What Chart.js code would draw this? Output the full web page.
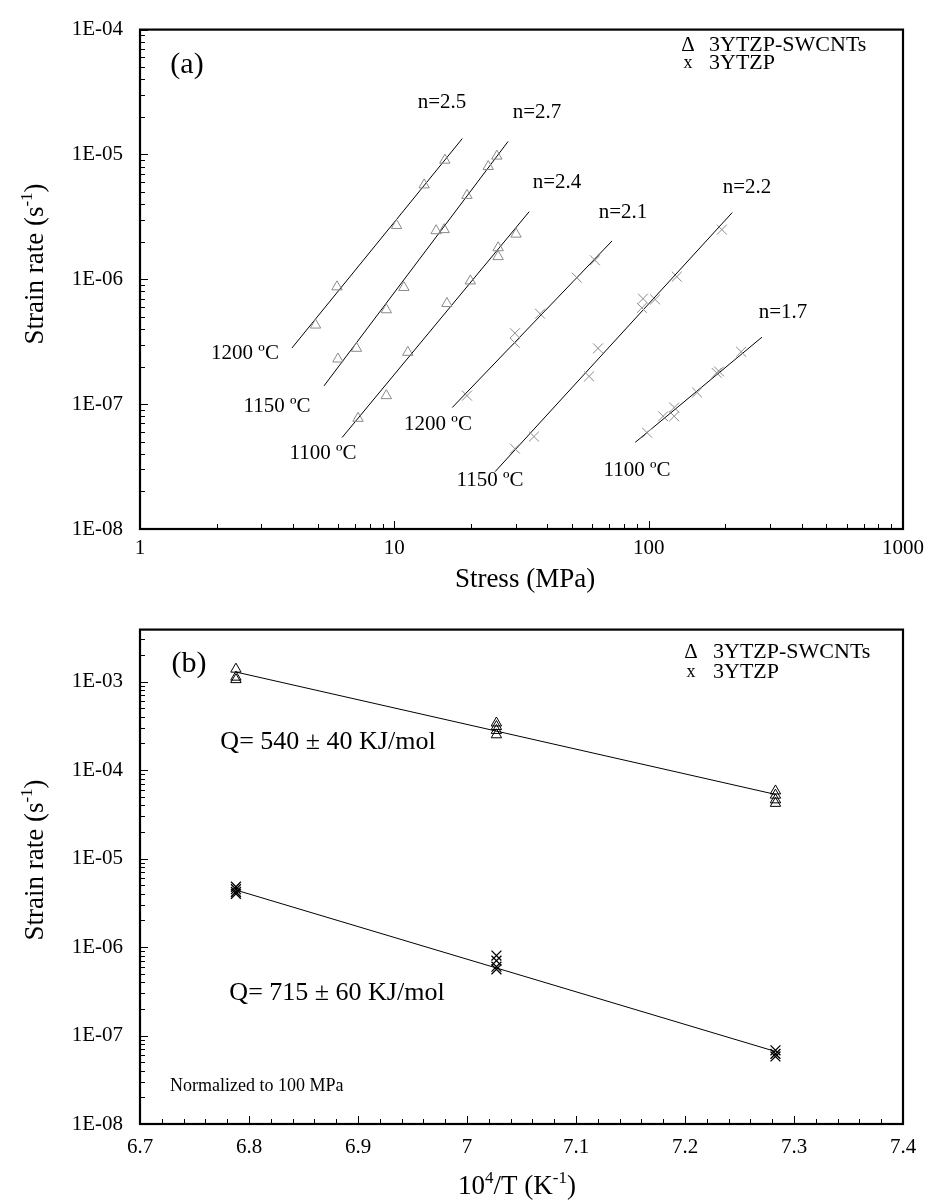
<!DOCTYPE html>
<html>
<head>
<meta charset="utf-8">
<script src="https://cdn.jsdelivr.net/npm/chart.js@4.4.0/dist/chart.umd.min.js"></script>
<style>
  html, body { margin: 0; padding: 0; background: #fff; }
  .panel { position: absolute; left: 0; width: 931px; }
  #panelA { top: 0; height: 600px; }
  #panelB { top: 600px; height: 604px; }
</style>
</head>
<body>
<div class="panel" id="panelA"><canvas id="chartA" width="931" height="600"></canvas></div>
<div class="panel" id="panelB"><canvas id="chartB" width="931" height="604"></canvas></div>
<script>
// ---- (a) stress (MPa) vs strain rate (1/s) ----
const cnt1200Stress = [4.9, 5.95, 10.2, 13.1, 15.8];
const cnt1200Rate   = [4.3e-7, 8.7e-7, 2.7e-6, 5.7e-6, 9.0e-6];
const cnt1150Stress = [6.0, 7.1, 9.3, 10.9, 14.6, 15.7, 19.3, 23.4, 25.3];
const cnt1150Rate   = [2.3e-7, 2.8e-7, 5.7e-7, 8.6e-7, 2.45e-6, 2.5e-6, 4.7e-6, 8.0e-6, 9.7e-6];
const cnt1100Stress = [7.2, 9.3, 11.3, 16.1, 19.9, 25.6, 25.6, 30.1];
const cnt1100Rate   = [7.7e-8, 1.17e-7, 2.6e-7, 6.4e-7, 9.7e-7, 1.52e-6, 1.79e-6, 2.3e-6];
const ytzp1200Stress = [19.3, 29.8, 29.8, 37.4, 52.2, 61.5];
const ytzp1200Rate   = [1.17e-7, 3.1e-7, 3.7e-7, 5.3e-7, 1.03e-6, 1.42e-6];
const ytzp1150Stress = [29.8, 35.4, 58.3, 63.2, 94, 95, 106, 129, 194];
const ytzp1150Rate   = [4.4e-8, 5.5e-8, 1.67e-7, 2.8e-7, 5.9e-7, 7.0e-7, 6.9e-7, 1.05e-6, 2.5e-6];
const ytzp1100Stress = [98.6, 114, 126, 126, 155, 185, 189, 231];
const ytzp1100Rate   = [5.9e-8, 8.0e-8, 8.0e-8, 9.4e-8, 1.24e-7, 1.78e-7, 1.83e-7, 2.63e-7];
// fitted power-law lines (end points)
const fitAStress = [[3.96, 18.5], [5.29, 28.0], [6.23, 33.9], [16.9, 71.8], [24.9, 213], [88.5, 279]];
const fitARate   = [[2.82e-7, 1.34e-5], [1.4e-7, 1.27e-5], [5.4e-8, 3.48e-6], [9.4e-8, 2.03e-6], [2.88e-8, 3.42e-6], [4.94e-8, 3.44e-7]];
const stressTicks = [1, 10, 100, 1000];
const rateTicksA = [1e-8, 1e-7, 1e-6, 1e-5, 1e-4];

// ---- (b) Arrhenius plot, normalized to 100 MPa ----
const cntInvT = [6.788, 6.788, 6.788, 7.027, 7.027, 7.027, 7.027, 7.283, 7.283, 7.283, 7.283];
const cntRateB = [1.38e-3, 1.12e-3, 1.05e-3, 3.4e-4, 3.1e-4, 2.8e-4, 2.5e-4, 5.8e-5, 5.2e-5, 4.6e-5, 4.2e-5];
const ytzpInvT = [6.788, 6.788, 6.788, 6.788, 7.027, 7.027, 7.027, 7.027, 7.283, 7.283, 7.283];
const ytzpRateB = [4.8e-6, 4.5e-6, 4.2e-6, 4.0e-6, 8.0e-7, 7.0e-7, 6.0e-7, 5.6e-7, 6.8e-8, 6.2e-8, 5.8e-8];
const fitBInvT = [[6.788, 7.283], [6.788, 7.283]];
const fitBRate = [[1.28e-3, 5.3e-5], [4.4e-6, 6.6e-8]];
const invTTicks = [6.7, 6.8, 6.9, 7.0, 7.1, 7.2, 7.3, 7.4];
const rateTicksB = [1e-8, 1e-7, 1e-6, 1e-5, 1e-4, 1e-3];

const FONT = '"Liberation Serif", "Times New Roman", serif';
const GRAY = '#8a8a8a';

function pts(xs, ys) { return xs.map((x, i) => ({ x: x, y: ys[i] })); }

function decadeLabel(v) {
    const e = Math.round(Math.log10(v));
    return '1E' + (e < 0 ? '-' : '+') + String(Math.abs(e)).padStart(2, '0');
}

function fitLine(xs, ys, w) {
    return { type: 'line', data: pts(xs, ys), showLine: true, borderColor: '#000',
             borderWidth: w || 1, pointRadius: 0, fill: false, order: 5 };
}

function marks(xs, ys, style, color, r, w) {
    return { data: pts(xs, ys), pointStyle: style, pointRadius: r, pointBorderColor: color,
             pointBackgroundColor: 'rgba(0,0,0,0)', pointBorderWidth: w, showLine: false, order: 1 };
}

// text with superscript parts: [[text, isSup], ...], centred on (x, y)
function richText(ctx, parts, x, y, size) {
    const base = size + 'px ' + FONT;
    const small = Math.round(size * 0.64) + 'px ' + FONT;
    let w = 0;
    parts.forEach(p => { ctx.font = p[1] ? small : base; w += ctx.measureText(p[0]).width; });
    let cx = x - w / 2;
    const by = y + size * 0.34;
    ctx.textAlign = 'left';
    ctx.textBaseline = 'alphabetic';
    parts.forEach(p => {
        ctx.font = p[1] ? small : base;
        ctx.fillText(p[0], cx, p[1] ? by - size * 0.4 : by);
        cx += ctx.measureText(p[0]).width;
    });
}

function logMinor(min, max) {
    const out = [];
    for (let e = Math.floor(Math.log10(min)); e <= Math.ceil(Math.log10(max)); e++) {
        for (let m = 1; m <= 9; m++) {
            const v = m * Math.pow(10, e);
            if (v >= min * 0.999 && v <= max * 1.001) out.push({ v: v, major: m === 1 });
        }
    }
    return out;
}

// frame, inside tick marks and the free text of each panel
function decoPlugin(cfg) {
    return {
        id: 'deco',
        afterDraw(chart) {
            const ctx = chart.ctx;
            const a = chart.chartArea;
            const xs = chart.scales.x, ys = chart.scales.y;
            ctx.save();
            ctx.strokeStyle = '#000';
            ctx.lineWidth = 1;
            ctx.beginPath();
            logMinor(ys.min, ys.max).forEach(t => {
                const p = Math.round(ys.getPixelForValue(t.v)) + 0.5;
                ctx.moveTo(a.left, p);
                ctx.lineTo(a.left + (t.major ? 8 : 5), p);
            });
            cfg.xTicks(xs).forEach(t => {
                const p = Math.round(xs.getPixelForValue(t.v)) + 0.5;
                ctx.moveTo(p, a.bottom);
                ctx.lineTo(p, a.bottom - (t.major ? 8 : 5));
            });
            ctx.stroke();
            ctx.lineWidth = 2.2;
            ctx.strokeRect(a.left, a.top, a.right - a.left, a.bottom - a.top);

            ctx.fillStyle = '#000';
            ctx.textBaseline = 'middle';
            cfg.labels.forEach(l => {
                ctx.font = (l.size || 21) + 'px ' + FONT;
                ctx.textAlign = l.align || 'center';
                ctx.fillText(l.t, l.x, l.y);
            });
            richText(ctx, cfg.xTitle.parts, cfg.xTitle.x, cfg.xTitle.y, 27);
            ctx.save();
            ctx.translate(cfg.yTitle.x, cfg.yTitle.y);
            ctx.rotate(-Math.PI / 2);
            richText(ctx, cfg.yTitle.parts, 0, 0, 27);
            ctx.restore();
            ctx.restore();
        }
    };
}

function baseOptions(xScale, yScale, pad) {
    return {
        responsive: false,
        animation: false,
        layout: { padding: pad },
        plugins: { legend: { display: false }, tooltip: { enabled: false } },
        scales: { x: xScale, y: yScale }
    };
}

const tickFont = { family: FONT, size: 21 };

// ---------- chart (a) ----------
const dsA = [
    marks(cnt1200Stress, cnt1200Rate, 'triangle', GRAY, 6, 1),
    marks(cnt1150Stress, cnt1150Rate, 'triangle', GRAY, 6, 1),
    marks(cnt1100Stress, cnt1100Rate, 'triangle', GRAY, 6, 1),
    marks(ytzp1200Stress, ytzp1200Rate, 'crossRot', GRAY, 7, 1),
    marks(ytzp1150Stress, ytzp1150Rate, 'crossRot', GRAY, 7, 1),
    marks(ytzp1100Stress, ytzp1100Rate, 'crossRot', GRAY, 7, 1)
];
fitAStress.forEach((s, i) => dsA.push(fitLine(s, fitARate[i])));

new Chart(document.getElementById('chartA'), {
    type: 'scatter',
    data: { datasets: dsA },
    options: baseOptions({
        type: 'logarithmic', min: 1, max: 1000,
        afterBuildTicks: s => { s.ticks = stressTicks.map(v => ({ value: v })); },
        afterFit: s => { s.height = 71; },
        grid: { display: false, drawTicks: false },
        border: { display: false },
        ticks: { font: tickFont, color: '#000', padding: 7, autoSkip: false, maxRotation: 0,
                 callback: v => String(v) }
    }, {
        type: 'logarithmic', min: 1e-8, max: 1e-4,
        afterBuildTicks: s => { s.ticks = rateTicksA.map(v => ({ value: v })); },
        afterFit: s => { s.width = 140; },
        grid: { display: false, drawTicks: false },
        border: { display: false },
        ticks: { font: tickFont, color: '#000', padding: 17, autoSkip: false, callback: v => decadeLabel(v) }
    }, { left: 0, top: 16, right: 28, bottom: 0 }),
    plugins: [decoPlugin({
        xTicks: s => logMinor(s.min, s.max),
        labels: [
            { t: '(a)', x: 187, y: 65, size: 30 },
            { t: 'n=2.5', x: 442, y: 102 },
            { t: 'n=2.7', x: 537, y: 112 },
            { t: 'n=2.4', x: 557, y: 182 },
            { t: 'n=2.1', x: 623, y: 212 },
            { t: 'n=2.2', x: 747, y: 187 },
            { t: 'n=1.7', x: 783, y: 312 },
            { t: '1200 ºC', x: 245, y: 353 },
            { t: '1150 ºC', x: 277, y: 406 },
            { t: '1100 ºC', x: 323, y: 453 },
            { t: '1200 ºC', x: 438, y: 424 },
            { t: '1150 ºC', x: 490, y: 480 },
            { t: '1100 ºC', x: 637, y: 470 },
            { t: 'Δ', x: 688, y: 45, size: 21 },
            { t: '3YTZP-SWCNTs', x: 709, y: 45, size: 22, align: 'left' },
            { t: 'x', x: 688, y: 63, size: 18 },
            { t: '3YTZP', x: 709, y: 63, size: 22, align: 'left' }
        ],
        xTitle: { parts: [['Stress (MPa)', false]], x: 525, y: 578 },
        yTitle: { parts: [['Strain rate (s', false], ['-1', true], [')', false]], x: 34, y: 264 }
    })]
});

// ---------- chart (b) ----------
const dsB = [
    marks(cntInvT, cntRateB, 'triangle', '#000', 6, 1),
    marks(ytzpInvT, ytzpRateB, 'crossRot', '#000', 7, 1.3)
];
fitBInvT.forEach((s, i) => dsB.push(fitLine(s, fitBRate[i])));

new Chart(document.getElementById('chartB'), {
    type: 'scatter',
    data: { datasets: dsB },
    options: baseOptions({
        type: 'linear', min: 6.7, max: 7.4,
        afterBuildTicks: s => { s.ticks = invTTicks.map(v => ({ value: v })); },
        afterFit: s => { s.height = 80; },
        grid: { display: false, drawTicks: false },
        border: { display: false },
        ticks: { font: tickFont, color: '#000', padding: 11, autoSkip: false, maxRotation: 0,
                 callback: v => String(+(+v).toFixed(1)) }
    }, {
        type: 'logarithmic', min: 1e-8, max: 3.86e-3,
        afterBuildTicks: s => { s.ticks = rateTicksB.map(v => ({ value: v })); },
        afterFit: s => { s.width = 140; },
        grid: { display: false, drawTicks: false },
        border: { display: false },
        ticks: { font: tickFont, color: '#000', padding: 17, autoSkip: false, callback: v => decadeLabel(v) }
    }, { left: 0, top: 12, right: 28, bottom: 0 }),
    plugins: [decoPlugin({
        xTicks: s => {
            const out = [];
            for (let i = 0; i <= 35; i++) out.push({ v: 6.7 + i * 0.02, major: i % 5 === 0 });
            return out;
        },
        labels: [
            { t: '(b)', x: 189, y: 64, size: 30 },
            { t: 'Δ', x: 691, y: 52, size: 21 },
            { t: '3YTZP-SWCNTs', x: 713, y: 52, size: 22, align: 'left' },
            { t: 'x', x: 691, y: 72, size: 18 },
            { t: '3YTZP', x: 713, y: 72, size: 22, align: 'left' },
            { t: 'Q= 540 ± 40 KJ/mol', x: 328, y: 142, size: 26 },
            { t: 'Q= 715 ± 60 KJ/mol', x: 337, y: 393, size: 26 },
            { t: 'Normalized to 100 MPa', x: 170, y: 486, size: 18, align: 'left' }
        ],
        xTitle: { parts: [['10', false], ['4', true], ['/T (K', false], ['-1', true], [')', false]], x: 517, y: 585 },
        yTitle: { parts: [['Strain rate (s', false], ['-1', true], [')', false]], x: 34, y: 260 }
    })]
});
</script>
</body>
</html>
